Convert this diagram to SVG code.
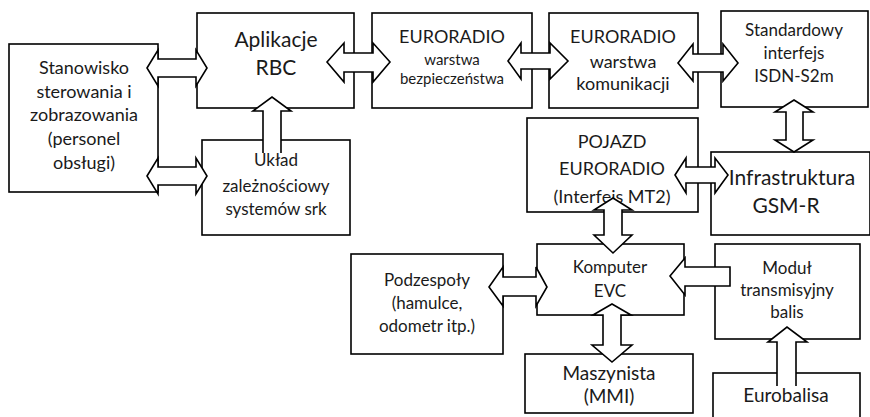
<svg xmlns="http://www.w3.org/2000/svg" width="870" height="417" viewBox="0 0 870 417">
<style>
.box{fill:#fff;stroke:#000;stroke-width:1.6}
.arr{fill:#fff;stroke:#000;stroke-width:1.6;stroke-linejoin:miter}
.af{fill:#fff;stroke:none}
.al{fill:none;stroke:#000;stroke-width:1.6}
text{font-family:Lato,"Liberation Sans",sans-serif;fill:#1a1a1a;text-anchor:middle}
.t18{font-size:18px}
.t17{font-size:17px}
.t15{font-size:15px}
.t21{font-size:21px}
.t19{font-size:19px}
</style>
<rect width="870" height="417" fill="#fff"/>
<g id="stanowisko"><rect class="box" x="9" y="44" width="149" height="148"/>
<text class="t18" x="84" y="74">Stanowisko</text><text class="t18" x="84" y="98">sterowania i</text><text class="t18" x="84" y="121">zobrazowania</text><text class="t18" x="84" y="145">(personel</text><text class="t18" x="84" y="169">obsługi)</text></g>
<g id="rbc"><rect class="box" x="197" y="13" width="157" height="95"/>
<text class="t21" x="276" y="47">Aplikacje</text><text class="t21" x="276" y="75">RBC</text></g>
<g id="uklad"><rect class="box" x="202" y="140" width="148" height="95"/>
<text class="t17" x="276" y="166">Układ</text><text class="t17" x="276" y="192">zależnościowy</text><text class="t17" x="276" y="215">systemów srk</text></g>
<g id="euroradio-bezp"><rect class="box" x="372" y="13" width="160" height="95"/>
<text class="t18" x="452" y="43">EURORADIO</text><text class="t15" x="452" y="65">warstwa</text><text class="t15" x="452" y="84">bezpieczeństwa</text></g>
<g id="euroradio-kom"><rect class="box" x="549" y="13" width="149" height="95"/>
<text class="t18" x="623" y="43">EURORADIO</text><text class="t18" x="623" y="68">warstwa</text><text class="t18" x="623" y="90">komunikacji</text></g>
<g id="isdn"><rect class="box" x="721" y="11" width="147" height="96"/>
<text class="t17" x="794" y="36">Standardowy</text><text class="t17" x="794" y="59">interfejs</text><text class="t17" x="794" y="82">ISDN-S2m</text></g>
<g id="pojazd"><rect class="box" x="527" y="118" width="171" height="94"/>
<text class="t18" x="612" y="148">POJAZD</text><text class="t18" x="612" y="175">EURORADIO</text><text class="t18" x="612" y="203">(Interfejs MT2)</text></g>
<g id="gsmr"><rect class="box" x="711" y="152" width="159" height="83"/>
<text class="t21" x="792" y="185">Infrastruktura</text><text class="t21" x="786" y="213">GSM-R</text></g>
<g id="podzespoly"><rect class="box" x="351" y="254" width="152" height="100"/>
<text class="t17" x="427" y="286">Podzespoły</text><text class="t17" x="427" y="309">(hamulce,</text><text class="t17" x="427" y="332">odometr itp.)</text></g>
<g id="evc"><rect class="box" x="537" y="244" width="147" height="71"/>
<text class="t17" x="610" y="273">Komputer</text><text class="t17" x="610" y="297">EVC</text></g>
<g id="maszynista"><rect class="box" x="525" y="354" width="168" height="59"/>
<text class="t19" x="609" y="380">Maszynista</text><text class="t19" x="609" y="403">(MMI)</text></g>
<g id="modul"><rect class="box" x="715" y="244" width="145" height="95"/>
<text class="t17" x="787" y="274">Moduł</text><text class="t17" x="787" y="296">transmisyjny</text><text class="t17" x="787" y="318">balis</text></g>
<g id="eurobalisa"><rect class="box" x="713" y="373" width="147" height="60"/>
<text class="t19" x="786" y="402">Eurobalisa</text></g>
<g id="connectors">
<polygon class="arr" points="147,68 158,50 158,59 196,59 196,50 207,68 196,86 196,77 158,77 158,86"/>
<polygon class="arr" points="147,176 158,158 158,167 196,167 196,158 207,176 196,194 196,185 158,185 158,194"/>
<polygon class="af" points="272,97 291,111 281,111 281,153 263,153 263,111 253,111"/>
<polyline class="al" points="263,153 263,111 253,111 272,97 291,111 281,111 281,153"/>
<polygon class="arr" points="327,62 344,43 344,53 373,53 373,43 390,62 373,82 373,72 344,72 344,82"/>
<polygon class="arr" points="508,61 521,43 521,53 550,53 550,43 568,61 550,79 550,69 521,69 521,79"/>
<polygon class="arr" points="678,63 693,44 693,54 723,54 723,44 738,63 723,81 723,72 693,72 693,81"/>
<polygon class="arr" points="794,100 813,112 803,112 803,140 813,140 794,152 775,140 786,140 786,112 775,112"/>
<polygon class="arr" points="675,175 686,158 686,167 715,167 715,158 728,175 715,193 715,183 686,183 686,193"/>
<polygon class="arr" points="613,198 632,210 622,210 622,235 632,235 613,253 594,235 604,235 604,210 594,210"/>
<polygon class="arr" points="489,287 503,267 503,277 536,277 536,267 547,287 536,306 536,296 503,296 503,306"/>
<polygon class="arr" points="670,276 685,258 685,267 730,267 730,286 685,286 685,295"/>
<polygon class="arr" points="612,304 631,315 621,315 621,345 632,345 612,362 592,345 603,345 603,315 593,315"/>
<polygon class="af" points="787,327 807,342 796,342 796,386 777,386 777,342 768,342"/>
<polyline class="al" points="777,386 777,342 768,342 787,327 807,342 796,342 796,386"/>
</g>
</svg>
